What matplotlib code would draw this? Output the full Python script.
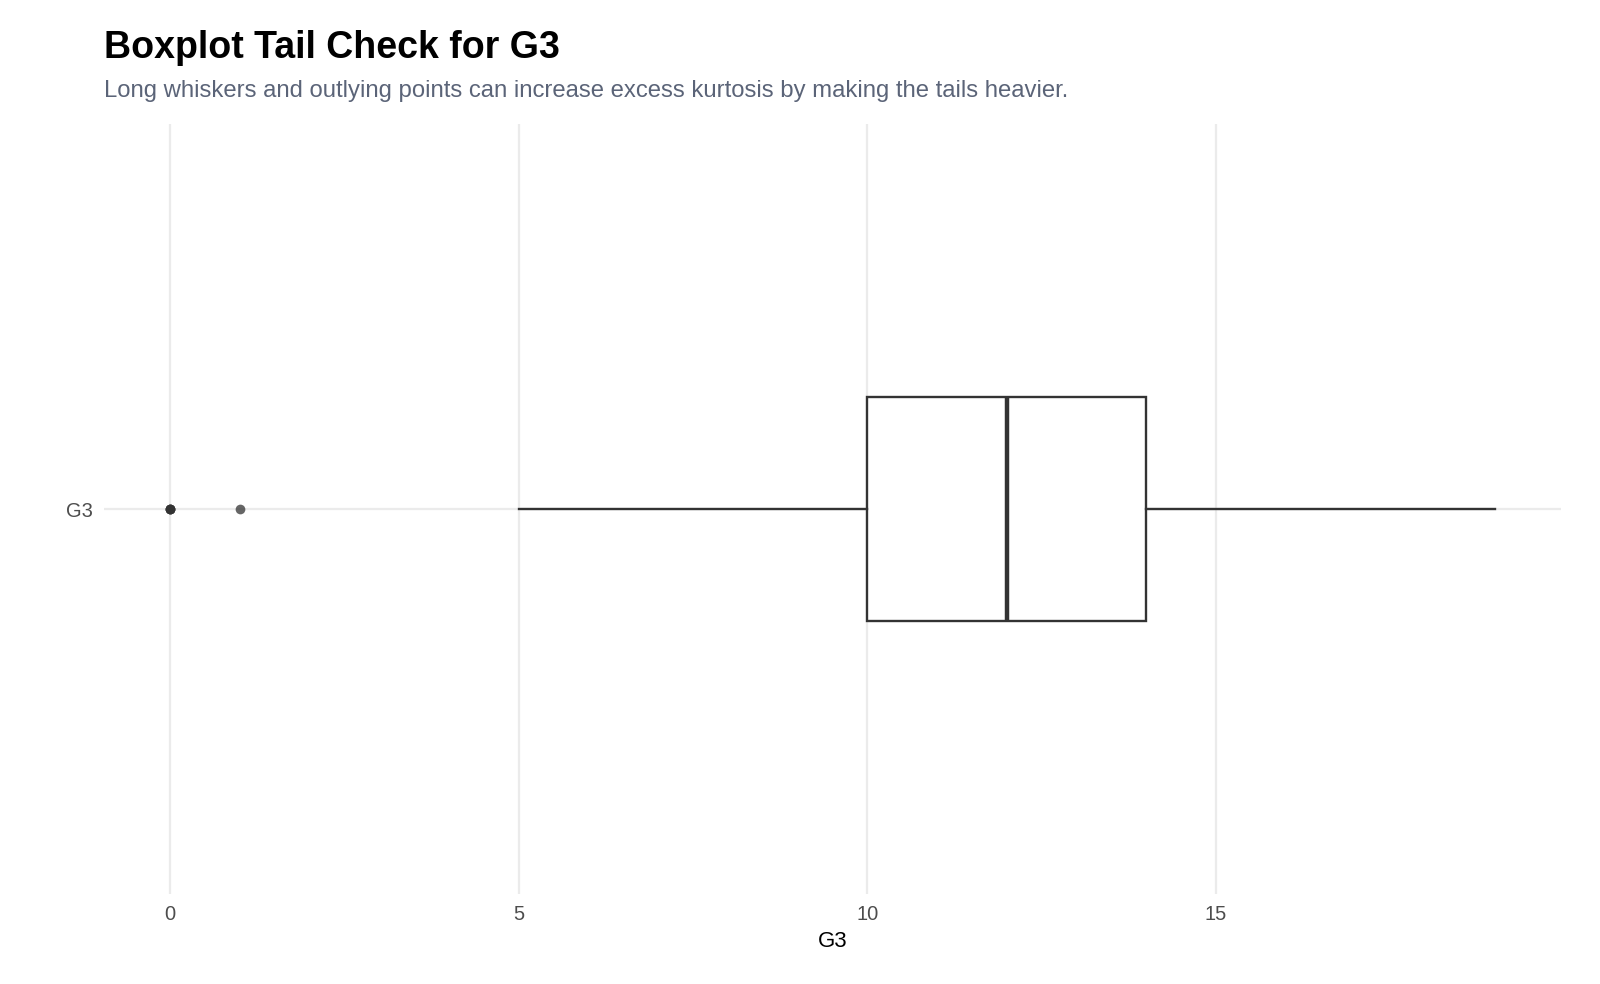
import matplotlib
matplotlib.use("Agg")
import matplotlib.pyplot as plt

# boxplot summary for G3
group = "G3"
whisker_low = 5
q1 = 10
median = 12
q3 = 14
whisker_high = 19
outliers = [0, 0, 0, 0, 1]

x_ticks = [0, 5, 10, 15]

plt.rcParams["font.family"] = ["Liberation Sans", "DejaVu Sans"]

fig = plt.figure(figsize=(16, 9.84), dpi=100)
ax = fig.add_axes([0.065, 0.0915, 0.9106, 0.782])

line_col = "#333333"
stats = [{
    "whislo": whisker_low, "q1": q1, "med": median, "q3": q3,
    "whishi": whisker_high, "fliers": outliers, "label": group,
}]
ax.bxp(stats, positions=[1], widths=0.35, vert=False, showcaps=False,
       patch_artist=True,
       boxprops=dict(facecolor="white", edgecolor=line_col, linewidth=1.7),
       whiskerprops=dict(color=line_col, linewidth=1.7),
       medianprops=dict(color=line_col, linewidth=3.2),
       flierprops=dict(marker="o", markersize=7, markerfacecolor=line_col,
                       markeredgecolor="none", alpha=0.75),
       zorder=3)

ax.set_xlim(-0.95, 19.95)
ax.set_ylim(0.4, 1.6)
ax.set_xticks(x_ticks)
ax.set_xticklabels([str(t) for t in x_ticks])
ax.set_yticks([1])
ax.set_yticklabels([group])

ax.grid(True, color="#EBEBEB", linewidth=1.6, zorder=0)
ax.set_axisbelow(True)
for s in ax.spines.values():
    s.set_visible(False)
ax.tick_params(length=0, labelsize=14.5, labelcolor="#4D4D4D", pad=8)

ax.set_xlabel("G3", fontsize=16, color="black", labelpad=5)

fig.text(0.065, 0.951, "Boxplot Tail Check for G3", fontsize=27,
         fontweight="bold", ha="left", va="center")
fig.text(0.065, 0.908,
         "Long whiskers and outlying points can increase excess kurtosis by making the tails heavier.",
         fontsize=17.2, color="#5B6478", ha="left", va="center")

fig.savefig("out.png", dpi=100, facecolor="white")
